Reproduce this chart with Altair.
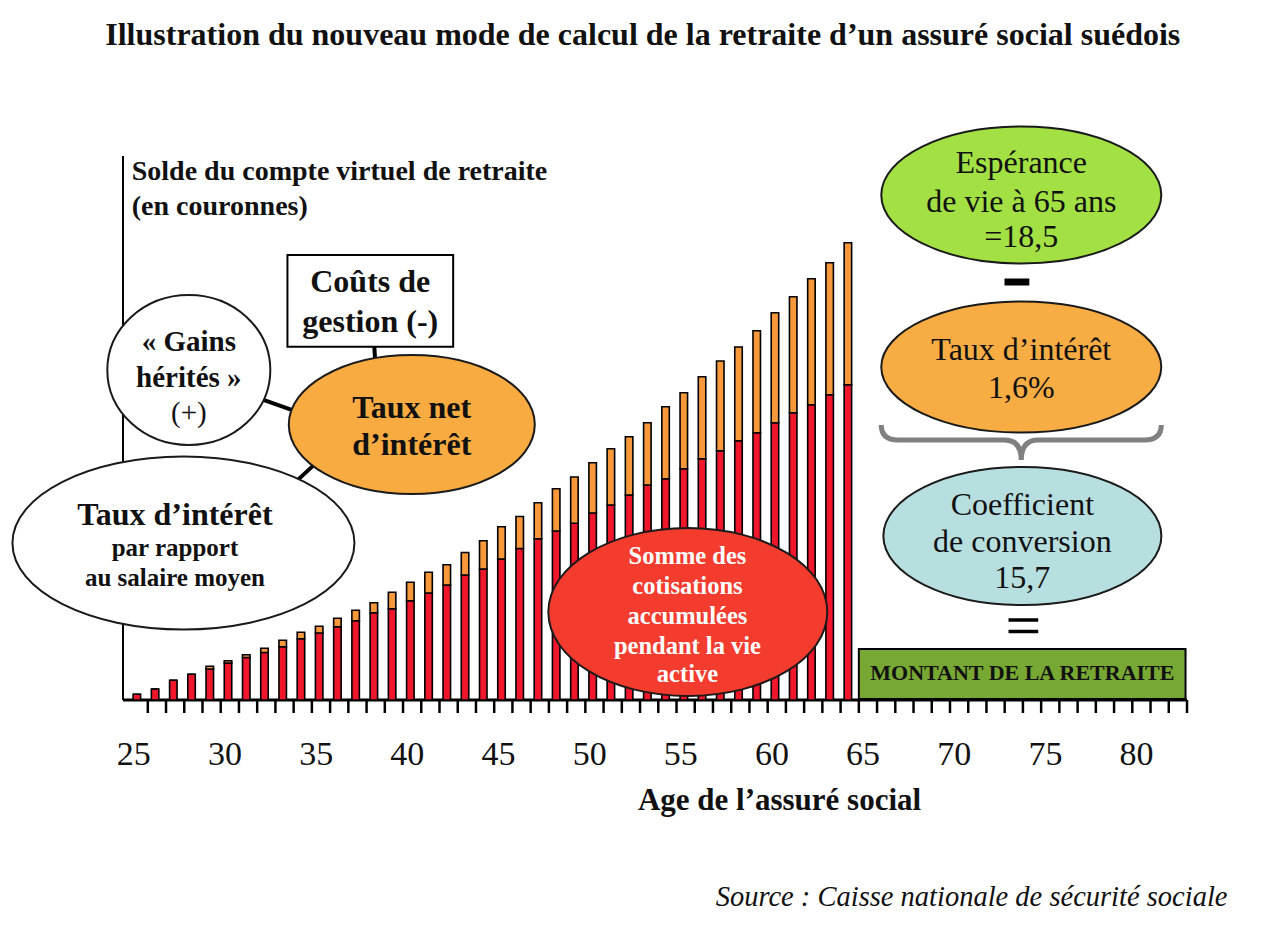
import altair as alt
import pandas as pd

# ---------------- data ----------------
ages = list(range(25, 65))
# total height of each bar (account balance, arbitrary units)
soldes = [5.7, 11, 19.7, 25.7, 33.7, 39.3, 45.3, 51.7, 59.7, 67.7,
          73.7, 81.7, 89.7, 97.3, 107.7, 117.7, 127.7, 135.3, 147.5, 159.3,
          173.3, 183.5, 197.3, 211.3, 223, 237.3, 251.3, 263.3, 277.3, 293.3,
          307.3, 323.3, 339, 353, 369.3, 387.3, 403.3, 421.3, 437.3, 457.3]
# red part: accumulated contributions
cotisations = [5.7, 11, 19.7, 25.7, 31, 37, 42.5, 47.5, 53.3, 61.3,
               67, 73.3, 79.3, 87.3, 91.3, 99.3, 107, 115, 125, 131,
               141, 151.5, 161.3, 169, 176.7, 187, 195, 205, 215, 221.3,
               231.3, 241.3, 249.3, 259.3, 267.3, 277.3, 287.3, 295.3, 305.3, 315.3]
tick_labels = [25, 30, 35, 40, 45, 50, 55, 60, 65, 70, 75, 80]
minor_ticks = [a + 0.6 for a in range(25, 83)]

parts = ["Cotisations accumulées", "Intérêts"]
part_colors = ["#F0162B", "#F7993A"]

title_text = "Illustration du nouveau mode de calcul de la retraite d’un assuré social suédois"
xaxis_title = "Age de l’assuré social"
yaxis_title = ["Solde du compte virtuel de retraite", "(en couronnes)"]
source_text = "Source : Caisse nationale de sécurité sociale"

# ---------------- tables ----------------
rows = []
for a, s, c in zip(ages, soldes, cotisations):
    rows.append({"age": a, "partie": parts[0], "valeur": c, "ordre": 0})
    rows.append({"age": a, "partie": parts[1], "valeur": round(s - c, 1), "ordre": 1})
bars_df = pd.DataFrame(rows)

X_MIN, X_MAX = 24.24, 82.6
Y_MIN, Y_MAX = 0, 544
XS = alt.Scale(domain=[X_MIN, X_MAX], nice=False, zero=False)
YS = alt.Scale(domain=[Y_MIN, Y_MAX], nice=False, zero=False)
FONT = "Liberation Serif"


def ellipse_path(ratio):
    k = 0.5523
    r = ratio
    return (f"M -1 0 C -1 {-k*r:.4f} {-k:.4f} {-r:.4f} 0 {-r:.4f} "
            f"C {k:.4f} {-r:.4f} 1 {-k*r:.4f} 1 0 "
            f"C 1 {k*r:.4f} {k:.4f} {r:.4f} 0 {r:.4f} "
            f"C {-k:.4f} {r:.4f} -1 {k*r:.4f} -1 0 Z")


# annotation ellipses: centre (age, solde), width / height in px, fill
ell_names = ["gains", "tauxnet", "taux_sal", "somme", "esperance", "taux16", "coef"]
ell_x = [27.85, 40.08, 27.555, 55.22, 73.51, 73.51, 73.57]
ell_y = [330, 275.5, 157, 88, 505, 333, 164]
ell_w = [163, 246, 342, 279, 280, 280, 278]
ell_h = [150, 139, 173, 168, 137, 131, 138]
ell_fill = ["#FFFFFF", "#F7AB41", "#FFFFFF", "#F33B2E", "#A2E043", "#F8AC44", "#B8DFE0"]
ell_df = pd.DataFrame({
    "nom": ell_names, "x": ell_x, "y": ell_y,
    "size": [w * w for w in ell_w],
    "shape": [ellipse_path(h / w) for w, h in zip(ell_w, ell_h)],
    "fill": ell_fill,
})

brace_path = ("M -1 -0.107 Q -1 0 -0.88 0 L -0.12 0 Q 0 0 0 0.143 "
              "Q 0 0 0.12 0 L 0.88 0 Q 1 0 1 -0.107")
brace_df = pd.DataFrame({"x": [73.51], "y": [260], "size": [280 * 280], "shape": [brace_path]})

conn_df = pd.DataFrame({
    "x1": [38.0, 31.56, 34.79], "x2": [38.07, 33.76, 33.74],
    "y1": [360, 302.7, 236.4], "y2": [340, 288.3, 218.6],
})

box_df = pd.DataFrame({
    "x1": [33.26, 64.6], "x2": [42.35, 82.52],
    "y1": [445, 51], "y2": [353.3, 1],
    "fill": ["#FFFFFF", "#78A834"],
})

signs_df = pd.DataFrame({
    "x1": [72.59, 72.81, 72.81], "x2": [73.95, 74.44, 74.44],
    "y": [418, 80, 68.5], "w": [7, 3.5, 3.5],
})

# axis lines (x baseline and y axis line)
axes_df = pd.DataFrame({
    "x1": [X_MIN, X_MIN], "x2": [X_MAX, X_MIN],
    "y1": [Y_MIN, Y_MIN], "y2": [Y_MIN, Y_MAX], "w": [3, 2],
})

ticks_df = pd.DataFrame({"age": minor_ticks, "y1": [0] * len(minor_ticks),
                         "y2": [-13] * len(minor_ticks)})

labels_df = pd.DataFrame({"t": [str(v) for v in tick_labels], "x": tick_labels,
                          "y": [-55] * len(tick_labels)})

bold_df = pd.DataFrame([
    ("Coûts de", 37.80, 418.3, 32),
    ("gestion (-)", 37.80, 378.3, 32),
    ("« Gains", 27.85, 358.3, 29),
    ("hérités »", 27.85, 322, 29),
    ("Taux net", 40.08, 292, 32),
    ("d’intérêt", 40.08, 255, 32),
    ("Taux d’intérêt", 27.09, 185, 32),
    ("par rapport", 27.09, 152, 25),
    ("au salaire moyen", 27.09, 122, 25),
    ("MONTANT DE LA RETRAITE", 73.57, 27, 22),
    (xaxis_title, 60.25, -101, 31),
    (title_text, 52.75, 665, 32),
], columns=["t", "x", "y", "s"])

normal_df = pd.DataFrame([
    ("(+)", 27.85, 287, 29),
    ("Espérance", 73.51, 537, 32),
    ("de vie à 65 ans", 73.51, 498.3, 32),
    ("=18,5", 73.51, 463.3, 32),
    ("Taux d’intérêt", 73.51, 350, 32),
    ("1,6%", 73.51, 312, 32),
    ("Coefficient", 73.57, 195, 32),
    ("de conversion", 73.57, 158.3, 32),
    ("15,7", 73.57, 122, 32),
], columns=["t", "x", "y", "s"])

white_df = pd.DataFrame([
    ("Somme des", 55.2, 143.3),
    ("cotisations", 55.2, 113.3),
    ("accumulées", 55.2, 83.3),
    ("pendant la vie", 55.2, 53.3),
    ("active", 55.2, 25),
], columns=["t", "x", "y"])

left_df = pd.DataFrame({"t": yaxis_title, "x": [24.72, 24.72], "y": [528.3, 493.3]})
source_df = pd.DataFrame({"t": [source_text], "x": [84.82], "y": [-197]})

# ---------------- layers ----------------
axis_lines = alt.Chart(axes_df).mark_rule(color="black").encode(
    x=alt.X("x1:Q", scale=XS, axis=None), x2="x2:Q",
    y=alt.Y("y1:Q", scale=YS, axis=None), y2="y2:Q",
    strokeWidth=alt.StrokeWidth("w:Q", scale=None),
)

ticks = alt.Chart(ticks_df).mark_rule(color="black", strokeWidth=2.5).encode(
    x=alt.X("age:Q", scale=XS, axis=None),
    y=alt.Y("y1:Q", scale=YS, axis=None),
    y2="y2:Q",
)

bars = alt.Chart(bars_df).mark_bar(size=7.5, stroke="black", strokeWidth=1.6).encode(
    x=alt.X("age:Q", scale=XS, axis=None),
    y=alt.Y("valeur:Q", stack="zero", scale=YS, axis=None),
    color=alt.Color("partie:N", scale=alt.Scale(domain=parts, range=part_colors), legend=None),
    order=alt.Order("ordre:Q"),
)

connectors = alt.Chart(conn_df).mark_rule(color="black", strokeWidth=4).encode(
    x=alt.X("x1:Q", scale=XS, axis=None), x2="x2:Q",
    y=alt.Y("y1:Q", scale=YS, axis=None), y2="y2:Q",
)

ellipses = alt.Chart(ell_df).mark_point(filled=True, opacity=1, stroke="#1a1a1a",
                                         strokeWidth=2).encode(
    x=alt.X("x:Q", scale=XS, axis=None),
    y=alt.Y("y:Q", scale=YS, axis=None),
    shape=alt.Shape("shape:N", scale=None),
    size=alt.Size("size:Q", scale=None),
    fill=alt.Fill("fill:N", scale=None),
)

brace = alt.Chart(brace_df).mark_point(filled=False, opacity=1, color="#808080",
                                        strokeWidth=5).encode(
    x=alt.X("x:Q", scale=XS, axis=None),
    y=alt.Y("y:Q", scale=YS, axis=None),
    shape=alt.Shape("shape:N", scale=None),
    size=alt.Size("size:Q", scale=None),
)

boxes = alt.Chart(box_df).mark_rect(stroke="black", strokeWidth=2).encode(
    x=alt.X("x1:Q", scale=XS, axis=None), x2="x2:Q",
    y=alt.Y("y1:Q", scale=YS, axis=None), y2="y2:Q",
    fill=alt.Fill("fill:N", scale=None),
)

signs = alt.Chart(signs_df).mark_rule(color="black").encode(
    x=alt.X("x1:Q", scale=XS, axis=None), x2="x2:Q",
    y=alt.Y("y:Q", scale=YS, axis=None),
    strokeWidth=alt.StrokeWidth("w:Q", scale=None),
)


def text_layer(df, **kw):
    enc = dict(
        x=alt.X("x:Q", scale=XS, axis=None),
        y=alt.Y("y:Q", scale=YS, axis=None),
        text="t:N",
    )
    if "s" in df.columns:
        enc["size"] = alt.Size("s:Q", scale=None)
    return alt.Chart(df).mark_text(font=FONT, baseline="middle", **kw).encode(**enc)


t_labels = text_layer(labels_df, fontWeight="normal", color="#111111", align="center",
                      fontSize=34, dx=-3)
t_bold = text_layer(bold_df, fontWeight="bold", color="#111111", align="center")
t_norm = text_layer(normal_df, fontWeight="normal", color="#111111", align="center")
t_white = text_layer(white_df, fontWeight="bold", color="white", align="center", fontSize=24.5)
t_left = text_layer(left_df, fontWeight="bold", color="#111111", align="left", fontSize=28)
t_src = text_layer(source_df, fontStyle="italic", color="#111111", align="right", fontSize=28.5)

chart = alt.layer(
    axis_lines, ticks, bars, connectors, ellipses, brace, boxes, signs,
    t_labels, t_bold, t_norm, t_white, t_left, t_src,
).properties(
    width=1074, height=544,
    autosize=alt.AutoSizeParams(type="none"),
    padding={"left": 110, "top": 148, "right": 70, "bottom": 215},
).configure(background="white").configure_view(strokeWidth=0, stroke="transparent")

chart.save("out.html", embed_options={"renderer": "svg", "actions": False})
